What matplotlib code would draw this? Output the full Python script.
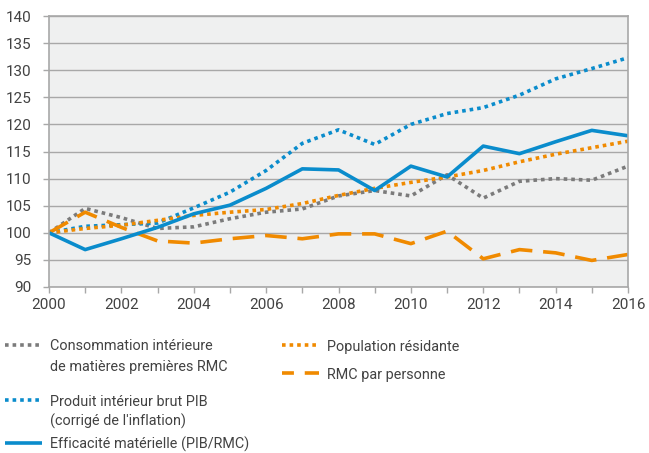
import matplotlib
matplotlib.use("Agg")
import matplotlib.pyplot as plt
from matplotlib.lines import Line2D

years = list(range(2000, 2017))
rmc_conso = [100, 104.5, 102.8, 100.8, 101.1, 102.6, 103.8, 104.4, 106.8, 107.8, 106.8, 110.7, 106.4, 109.5, 110.0, 109.7, 112.3]
pib = [100, 101.2, 101.5, 101.8, 104.6, 107.5, 111.5, 116.5, 119.0, 116.3, 120.0, 122.0, 123.1, 125.4, 128.4, 130.3, 132.3]
efficacite = [100, 96.9, 98.9, 101.0, 103.5, 105.1, 108.2, 111.8, 111.6, 107.8, 112.3, 110.3, 116.0, 114.6, 116.8, 118.9, 117.9]
population = [100, 100.8, 101.4, 102.3, 103.2, 103.8, 104.3, 105.4, 106.9, 108.2, 109.3, 110.3, 111.5, 113.1, 114.5, 115.7, 116.9]
rmc_pers = [100, 103.8, 101.0, 98.5, 98.1, 98.9, 99.5, 98.9, 99.8, 99.8, 98.0, 100.3, 95.2, 96.9, 96.3, 94.9, 96.0]

labels = ["Consommation intérieure\nde matières premières RMC",
          "Produit intérieur brut PIB\n(corrigé de l'inflation)",
          "Efficacité matérielle (PIB/RMC)",
          "Population résidante",
          "RMC par personne"]
xticks = list(range(2000, 2017, 2))
yticks = list(range(90, 141, 5))

GRAY = "#7b7b7b"
BLUE = "#0a8ccc"
ORANGE = "#f08a00"
TXT = "#424242"

plt.rcParams['font.family'] = ['Roboto', 'DejaVu Sans']

W, H = 649, 453
fig = plt.figure(figsize=(W/100, H/100), dpi=100)
ax = fig.add_axes([49/W, 1-287/H, 579/W, 271/H])
ax.set_facecolor("#eff0f0")

lw = 2.6
dot = (0, (1.0, 1.1))
dash = (0, (6, 3))
styles = [dict(color=GRAY, linestyle=dot),
          dict(color=BLUE, linestyle=dot),
          dict(color=BLUE, linestyle='-'),
          dict(color=ORANGE, linestyle=dot),
          dict(color=ORANGE, linestyle=dash)]
series = [rmc_conso, pib, efficacite, population, rmc_pers]
order = [0, 1, 3, 4, 2]
for i in order:
    ax.plot(years, series[i], lw=lw, dash_capstyle='butt', solid_capstyle='butt', **styles[i])

ax.set_xlim(2000, 2016)
ax.set_ylim(90, 140)
ax.set_xticks(xticks)
ax.set_xticks(years, minor=True)
ax.set_yticks(yticks)
ax.grid(axis='y', color="#a8a8a8", lw=1.0)
ax.set_axisbelow(True)
for s in ax.spines.values():
    s.set_color("#a8a8a8")
    s.set_linewidth(1.2)
ax.tick_params(which='both', color="#a8a8a8", length=4, width=1, labelsize=11, labelcolor=TXT)
ax.tick_params(axis='y', pad=8.5)
ax.tick_params(axis='x', pad=4)

# legend drawn manually (pixel layout from top-left)
def fx(px):
    return px / W

def fy(py):
    return 1 - py / H

legend_pos = [(5, 345), (5, 400), (5, 443), (282, 345), (282, 373)]
handle_len = 37
for i, (x0, y0) in enumerate(legend_pos):
    st = dict(styles[i])
    if i == 4:
        st['linestyle'] = (2.7, (6, 3))
    fig.add_artist(Line2D([fx(x0), fx(x0 + handle_len)], [fy(y0), fy(y0)], transform=fig.transFigure,
                          lw=lw, dash_capstyle='butt', solid_capstyle='butt', **st))
    for k, line in enumerate(labels[i].split("\n")):
        fig.text(fx(x0 + 45), fy(y0 + 20 * k), line, fontsize=10.4, color=TXT,
                 ha='left', va='center_baseline')

fig.savefig("out.png", dpi=100)
